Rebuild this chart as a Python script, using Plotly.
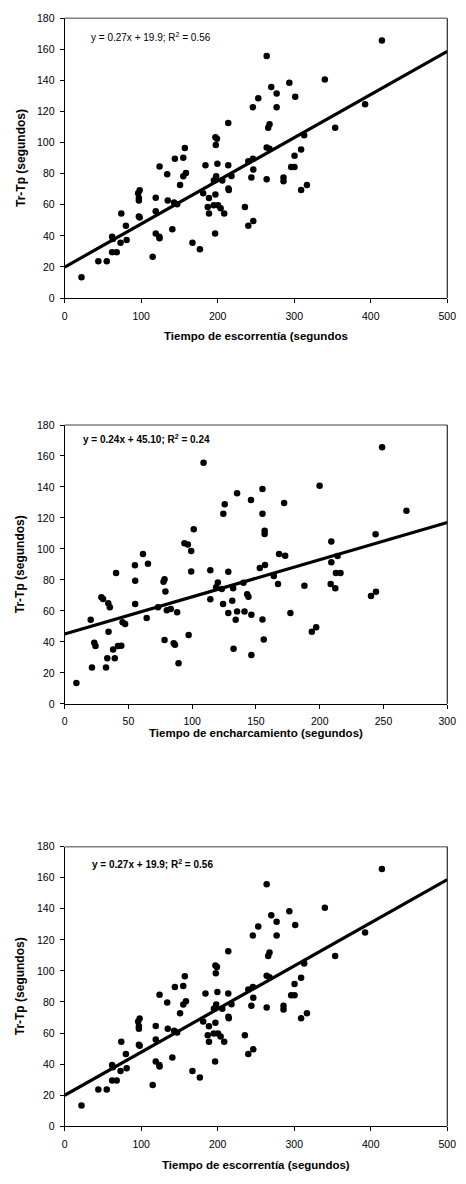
import plotly.graph_objects as go

W, H = 466, 1184

# ---- data: runoff time vs Tr-Tp (panels 1 and 3) ----
runoff_x = [22, 44, 55, 62, 68, 62, 63, 73, 74, 80, 81, 96, 98, 97, 97, 97, 98, 115, 119, 119,
            119, 123.7, 124, 124, 134, 134.7, 140.7, 144, 143, 147, 150.8, 155, 157, 155, 158.5, 167, 176.7, 181, 184, 187,
            188.6, 188.6, 197, 199, 197.5, 197, 196.6, 199.6, 198, 195, 197, 194.8, 200.4, 203.8, 206, 208.5, 213.8, 213.8, 214, 214.5,
            218, 235.5, 240, 246.5, 240, 246, 246.5, 244, 246, 253, 264, 264, 264, 266, 267.7, 270, 277, 277, 267.7, 286,
            286, 293.6, 296, 300.4, 300.4, 301.3, 309, 309, 313, 316.6, 340, 353.5, 392.6, 414.6]
runoff_y = [13.4, 23.6, 23.6, 29.5, 29.5, 39.5, 38, 35.5, 54.4, 46.5, 37.4, 67.4, 69.3, 64.4, 62.7, 52.5, 51.8, 26.6, 64.6, 55.9,
            41.6, 39.5, 38.5, 84.6, 79.7, 62.7, 44.2, 89.7, 61.4, 60.3, 72.7, 90.3, 96.5, 78.4, 80.5, 35.5, 31.4, 67.4, 85.4, 58.6,
            64.4, 54.4, 103.5, 102.5, 98.5, 66.7, 41.6, 86.5, 78.4, 75.6, 76, 59.7, 59.7, 57.8, 75.6, 54.4, 112.6, 85.4, 70.5, 69.5,
            78.6, 58.6, 46.5, 49.5, 88, 89.7, 82.7, 77.6, 122.8, 128.6, 155.8, 96.9, 76.5, 109.6, 111.8, 135.8, 131.7, 122.8, 96, 77.6,
            75.2, 138.5, 84.4, 84.4, 91.6, 129.6, 95.6, 69.5, 104.8, 72.7, 140.7, 109.6, 124.7, 165.7]
runoff_fit_x = [0, 500]
runoff_fit_y = [19.9, 158.8]

# ---- data: ponding time vs Tr-Tp (panel 2) ----
ponding_x = [9.2, 20.4, 21.4, 23.2, 24.2, 28.8, 30.1, 32.4, 33.4, 34.2, 35.4, 34.4, 38, 39.3, 40.3, 41.8, 44.4, 45.4, 47.4, 55.1,
             55.3, 55.3, 61.4, 64.3, 65.3, 73.2, 77.5, 78.3, 79, 78.3, 80.1, 83.2, 85.5, 86.5, 88.2, 89.3, 97.2, 99.2, 101.2, 93.9,
             96.6, 99.2, 108.9, 135.2, 155.1, 146.1, 125.5, 124.4, 155.1, 172.1, 199.9, 156.8, 156.8, 168.1, 172.9, 153, 157.1, 114.2, 128.3, 120.1,
             118.8, 123.2, 132.1, 140.2, 143.1, 144.1, 164, 167.3, 188, 114.2, 124.2, 131.4, 128.3, 135.2, 134.1, 141, 146.4, 155.1, 177, 156.1,
             132.4, 146.4, 193.8, 197.2, 248.9, 268, 243.8, 209.1, 214, 209.1, 212.7, 216.3, 208.6, 212.2, 240.2, 244.1]
ponding_y = [13.4, 54.3, 23.4, 39.4, 37.3, 68.8, 67.7, 23.4, 29.4, 65, 62.4, 46.6, 35.1, 29.4, 84.5, 37.3, 37.5, 52.6, 51.5, 89.5,
             79.4, 64.5, 96.7, 55.4, 90.5, 62.4, 78.8, 80.5, 72.6, 41.3, 60.5, 61.3, 39.2, 38.1, 59.2, 26.2, 44.5, 85.4, 112.7, 103.7,
             102.9, 98.6, 155.7, 135.9, 138.7, 131.6, 128.9, 122.7, 122.7, 129.7, 140.8, 111.8, 109.7, 96.7, 95.6, 87.7, 89.6, 86.3, 85.2, 78.4,
             75.2, 74.1, 74.6, 78.1, 70.7, 69.2, 82.6, 77.3, 76.2, 67.5, 64.5, 66.5, 58.6, 59.6, 54.3, 59.6, 57.5, 54.5, 58.6, 41.5,
             35.6, 31.5, 46.5, 49.4, 165.7, 124.6, 109.5, 104.8, 95.4, 91.4, 84.5, 84.5, 77.3, 74.6, 69.6, 72.4]
ponding_fit_x = [0, 300]
ponding_fit_y = [45.1, 117.1]

# ---- labels ----
y_title = "Tr-Tp (segundos)"
x_titles = ["Tiempo de escorrentía (segundos", "Tiempo de encharcamiento (segundos)",
            "Tiempo de escorrentía (segundos)"]
equations = ["y = 0.27x + 19.9; R<sup>2</sup> = 0.56", "<b>y = 0.24x + 45.10; R<sup>2</sup> = 0.24</b>",
             "<b>y = 0.27x + 19.9; R<sup>2</sup> = 0.56</b>"]
x_ranges = [[0, 500], [0, 300], [0, 500]]
x_dticks = [100, 50, 100]

FONT = "Arial, 'Liberation Sans', sans-serif"

# pixel layout (left, right, top, bottom) per panel
px_left, px_right = 63.3, 456
panels_px = [(12.5, 295.0), (423.3, 705.0), (849.3, 1131.7)]
xtitle_px = [333, 734, 1171]
eq_px = [(152, 31.7), (147, 437), (153, 867)]

def fx(p):
    return p / W

def fy(p):
    return 1 - p / H

fig = go.Figure()
datasets = [(runoff_x, runoff_y, runoff_fit_x, runoff_fit_y),
            (ponding_x, ponding_y, ponding_fit_x, ponding_fit_y),
            (runoff_x, runoff_y, runoff_fit_x, runoff_fit_y)]

annotations = []
shapes = []
for i, (xs, ys, fxs, fys) in enumerate(datasets):
    n = "" if i == 0 else str(i + 1)
    xa, ya = "x" + n, "y" + n
    fig.add_trace(go.Scatter(x=xs, y=ys, mode="markers", xaxis=xa, yaxis=ya,
                             marker=dict(color="black", size=6.5, line=dict(width=0)),
                             showlegend=False, cliponaxis=False))
    fig.add_trace(go.Scatter(x=fxs, y=fys, mode="lines", xaxis=xa, yaxis=ya,
                             line=dict(color="black", width=3.2), showlegend=False))
    top, bot = panels_px[i]
    axis_common = dict(showgrid=False, zeroline=False, showline=True, linecolor="black", linewidth=1,
                       ticks="outside", ticklen=4, tickcolor="black", tickwidth=1,
                       tickfont=dict(family=FONT, size=10.5, color="black"))
    fig.layout["xaxis" + n] = dict(domain=[fx(px_left), fx(px_right)], range=x_ranges[i], dtick=x_dticks[i],
                                   anchor=ya, ticklabelstandoff=4, **axis_common)
    fig.layout["yaxis" + n] = dict(domain=[fy(bot), fy(top)], range=[0, 180], dtick=20,
                                   anchor=xa, ticklabelstandoff=3, **axis_common)
    # frame: grey top, black right
    shapes.append(dict(type="line", xref=xa + " domain", yref=ya + " domain", x0=0, x1=1, y0=1, y1=1,
                       line=dict(color="#808080", width=1.5)))
    shapes.append(dict(type="line", xref=xa + " domain", yref=ya + " domain", x0=1, x1=1, y0=0, y1=1,
                       line=dict(color="black", width=1)))
    annotations.append(dict(text=equations[i], xref="paper", yref="paper", x=fx(eq_px[i][0]), y=fy(eq_px[i][1]),
                            showarrow=False, xanchor="center", yanchor="middle",
                            font=dict(family=FONT, size=10, color="black")))
    annotations.append(dict(text="<b>" + x_titles[i] + "</b>", xref="paper", yref="paper",
                            x=fx((px_left + px_right) / 2), y=fy(xtitle_px[i]), showarrow=False,
                            xanchor="center", yanchor="middle",
                            font=dict(family=FONT, size=11.5, color="black")))
    annotations.append(dict(text="<b>" + y_title + "</b>", xref="paper", yref="paper",
                            x=fx(18.3), y=fy((top + bot) / 2), showarrow=False, textangle=-90,
                            xanchor="center", yanchor="middle",
                            font=dict(family=FONT, size=12, color="black")))

fig.update_layout(width=W, height=H, margin=dict(l=0, r=0, t=0, b=0),
                  paper_bgcolor="white", plot_bgcolor="white",
                  annotations=annotations, shapes=shapes, showlegend=False)

fig.write_html("out.html", config={"displayModeBar": False, "responsive": False},
               post_script="document.body.style.margin='0';document.body.style.overflow='hidden';")
